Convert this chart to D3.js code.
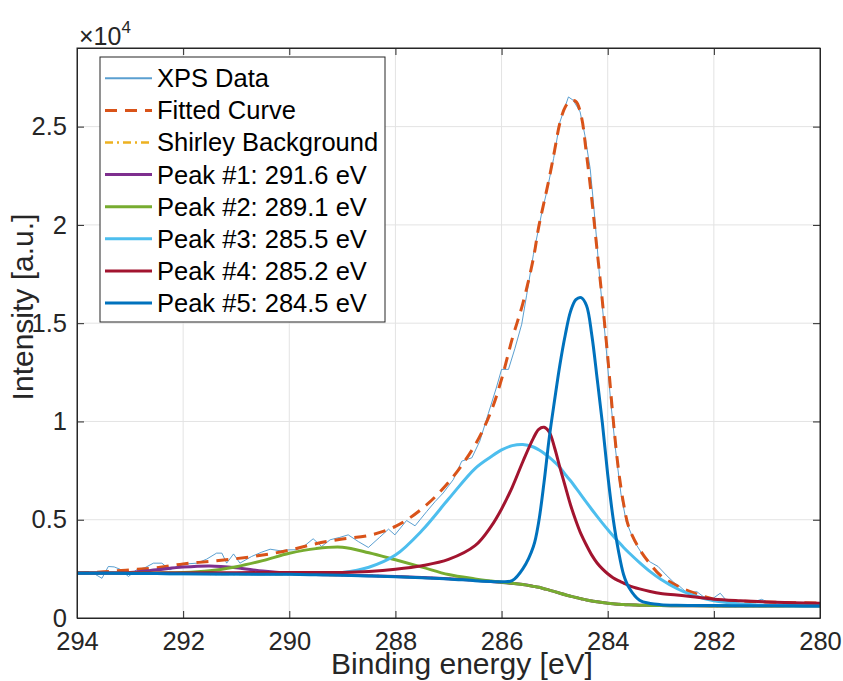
<!DOCTYPE html>
<html lang="en">
<head>
    <meta charset="UTF-8">
    <title>XPS C1s Fit</title>
    <script src="https://d3js.org/d3.v7.min.js"></script>
    <style>
        body { margin: 0; background: #ffffff; }
        svg { display: block; font-family: "Liberation Sans", Arial, Helvetica, sans-serif; }
        .tick text { fill: #262626; font-size: 25.5px; }
        .domain { stroke: #262626; }
        .tick line { stroke: #262626; }
    </style>
</head>
<body>
    <div id="chart"></div>
    <script>
        // energy grid shared by the fitted components (binding energy, eV)
        const energies = [294, 293.5, 293, 292.5, 292, 291.5, 291, 290.5, 290, 289.5, 289, 288.5, 288, 287.5, 287,
            286.5, 286.2, 286.0, 285.8, 285.6, 285.4, 285.3, 285.2, 285.1, 285.0, 284.9, 284.8, 284.7, 284.6, 284.5,
            284.4, 284.3, 284.2, 284.1, 284.0, 283.9, 283.8, 283.7, 283.6, 283.4, 283.2, 283.0, 282.7, 282.4, 282.0,
            281.5, 281.0, 280.5, 280.0];

        const fitted = [2280, 2350, 2450, 2560, 2750, 2880, 3020, 3200, 3450, 3780, 4020, 4200, 4660, 5560, 6900,
            8800, 10500, 12150, 14200, 16000, 18300, 19900, 21150, 22400, 23800, 25200, 26000, 26300, 26280, 25550,
            23600, 21300, 18700, 16100, 13300, 10200, 7600, 5800, 4600, 3500, 2750, 2150, 1650, 1300, 960,
            860, 810, 780, 760];

        const shirley = [2280, 2275, 2270, 2260, 2250, 2245, 2240, 2235, 2225, 2205, 2180, 2150, 2110, 2060, 2000,
            1920, 1860, 1810, 1760, 1700, 1610, 1560, 1490, 1420, 1340, 1260, 1180, 1110, 1040, 980,
            920, 870, 830, 790, 750, 720, 700, 685, 670, 650, 640, 630, 625, 620, 615,
            612, 610, 608, 605];

        const peak1 = [2285, 2290, 2320, 2450, 2590, 2650, 2560, 2390, 2275, 2215, 2185, 2150, 2110, 2060, 2000,
            1920, 1860, 1810, 1760, 1700, 1610, 1560, 1490, 1420, 1340, 1260, 1180, 1110, 1040, 980,
            920, 870, 830, 790, 750, 720, 700, 685, 670, 650, 640, 630, 625, 620, 615,
            612, 610, 608, 605];

        const peak2 = [2285, 2285, 2290, 2295, 2310, 2400, 2610, 2920, 3290, 3530, 3600, 3320, 2960, 2590, 2210,
            1990, 1880, 1815, 1765, 1700, 1610, 1560, 1490, 1420, 1340, 1260, 1180, 1110, 1040, 980,
            920, 870, 830, 790, 750, 720, 700, 685, 670, 650, 640, 630, 625, 620, 615,
            612, 610, 608, 605];

        const peak3 = [2280, 2275, 2270, 2260, 2250, 2245, 2240, 2238, 2235, 2250, 2310, 2580, 3200, 4450, 6050,
            7600, 8200, 8550, 8770, 8830, 8700, 8560, 8380, 8170, 7930, 7660, 7300, 6980, 6620, 6250,
            5880, 5520, 5170, 4830, 4500, 4180, 3880, 3590, 3320, 2820, 2360, 1970, 1500, 1160, 870,
            710, 645, 615, 606];

        const peak4 = [2285, 2285, 2285, 2290, 2295, 2300, 2305, 2310, 2310, 2315, 2320, 2370, 2480, 2660, 2980,
            3680, 4650, 5550, 6650, 7950, 9150, 9600, 9700, 9450, 8650, 7650, 6700, 5750, 4950, 4250,
            3700, 3200, 2800, 2500, 2250, 2050, 1900, 1780, 1650, 1480, 1350, 1250, 1170, 1080, 960,
            880, 820, 780, 750];

        const peak5 = [2280, 2275, 2270, 2260, 2250, 2240, 2235, 2230, 2225, 2200, 2170, 2140, 2100, 2050, 1990,
            1900, 1860, 1840, 1900, 2500, 3640, 4900, 6900, 9200, 11100, 12900, 14400, 15600, 16200, 16300,
            15900, 14400, 12200, 9900, 7300, 5100, 3450, 2200, 1550, 900, 740, 680, 650, 640, 630,
            625, 620, 618, 615];

        // measured spectrum
        const xpsEnergy = [294.0, 293.85, 293.7, 293.53, 293.41, 293.3, 293.19, 293.03, 292.88, 292.72, 292.56,
            292.4, 292.25, 292.06, 291.9, 291.74, 291.56, 291.37, 291.27, 291.18, 291.05, 290.93, 290.71, 290.52,
            290.36, 290.17, 289.99, 289.86, 289.7, 289.55, 289.39, 289.23, 289.05, 288.89, 288.7, 288.51, 288.3,
            288.13, 288.01, 287.79, 287.63, 287.41, 287.25, 287.1, 286.91, 286.75, 286.56, 286.41, 286.25, 286.1,
            286.0, 285.87, 285.75, 285.62, 285.53, 285.4, 285.24, 285.15, 285.02, 284.9, 284.74, 284.65, 284.52,
            284.43, 284.33, 284.27, 284.21, 284.15, 284.05, 283.95, 283.85, 283.75, 283.65, 283.5, 283.35, 283.2,
            283.05, 282.9, 282.75, 282.64, 282.51, 282.32, 282.2, 282.04, 281.88, 281.76, 281.6, 281.45, 281.26,
            281.1, 280.95, 280.75, 280.5, 280.25, 280.0];
        const xpsIntensity = [2290, 2250, 2290, 2020, 2620, 2600, 2480, 2110, 2450, 2560, 2790,
            2790, 2450, 2700, 2760, 2790, 2990, 3300, 3300, 2790, 3260, 2790, 3130, 3350,
            3500, 3420, 3470, 3470, 3700, 4030, 3640, 3980, 4100, 4230, 3890, 3590, 4100,
            4520, 4230, 4960, 4690, 5420, 5930, 6360, 7040, 7980, 8150, 9000, 10400, 11700,
            12650, 12650, 13700, 14950, 16390, 18500, 20650, 21670, 23370, 25240, 26510, 26340, 25750,
            24560, 22860, 21160, 19290, 17240, 14400, 11200, 8500, 6300, 4900, 3900, 3250, 2850,
            2620, 2190, 1800, 1600, 1290, 1340, 1090, 950, 1260, 880, 860, 840, 810,
            950, 770, 760, 740, 730, 720];

        const xTicks = [294, 292, 290, 288, 286, 284, 282, 280];
        const yTicks = [0, 5000, 10000, 15000, 20000, 25000];
        const legendLabels = ["XPS Data", "Fitted Curve", "Shirley Background", "Peak #1: 291.6 eV",
            "Peak #2: 289.1 eV", "Peak #3: 285.5 eV", "Peak #4: 285.2 eV", "Peak #5: 284.5 eV"];

        const width = 843;
        const height = 681;
        const margin = { top: 48, right: 23, bottom: 63, left: 77 };
        const innerWidth = width - margin.left - margin.right;
        const innerHeight = height - margin.top - margin.bottom;

        const styles = [
            { color: "#3d8ec8", width: 1, dash: null, opacity: 0.85 },
            { color: "#D95319", width: 3, dash: "12,8", opacity: 1 },
            { color: "#EDB120", width: 2.5, dash: "8,4,2,4", opacity: 1 },
            { color: "#7E2F8E", width: 3, dash: null, opacity: 1 },
            { color: "#77AC30", width: 3, dash: null, opacity: 1 },
            { color: "#4DBEEE", width: 3, dash: null, opacity: 1 },
            { color: "#A2142F", width: 3, dash: null, opacity: 1 },
            { color: "#0072BD", width: 3, dash: null, opacity: 1 }
        ];

        const svg = d3.select("#chart")
            .append("svg")
            .attr("width", width)
            .attr("height", height);

        const g = svg.append("g")
            .attr("transform", `translate(${margin.left}, ${margin.top})`);

        const xScale = d3.scaleLinear().domain([294, 280]).range([0, innerWidth]);
        const yScale = d3.scaleLinear().domain([0, 29000]).range([innerHeight, 0]);

        // grid
        g.append("g").selectAll("line").data(xTicks.slice(1, -1)).join("line")
            .attr("x1", d => xScale(d)).attr("x2", d => xScale(d))
            .attr("y1", 0).attr("y2", innerHeight)
            .attr("stroke", "#e3e3e3").attr("stroke-width", 1);
        g.append("g").selectAll("line").data(yTicks.slice(1)).join("line")
            .attr("x1", 0).attr("x2", innerWidth)
            .attr("y1", d => yScale(d)).attr("y2", d => yScale(d))
            .attr("stroke", "#e3e3e3").attr("stroke-width", 1);

        // curves
        g.append("clipPath").attr("id", "plot-clip")
            .append("rect").attr("width", innerWidth).attr("height", innerHeight);
        const plot = g.append("g").attr("clip-path", "url(#plot-clip)");

        const line = d3.line()
            .x(d => xScale(d[0]))
            .y(d => yScale(d[1]));
        const smooth = d3.line()
            .x(d => xScale(d[0]))
            .y(d => yScale(d[1]))
            .curve(d3.curveCatmullRom.alpha(0.5));

        const series = [
            { values: d3.zip(xpsEnergy, xpsIntensity), gen: line },
            { values: d3.zip(energies, fitted), gen: smooth },
            { values: d3.zip(energies, shirley), gen: smooth },
            { values: d3.zip(energies, peak1), gen: smooth },
            { values: d3.zip(energies, peak2), gen: smooth },
            { values: d3.zip(energies, peak3), gen: smooth },
            { values: d3.zip(energies, peak4), gen: smooth },
            { values: d3.zip(energies, peak5), gen: smooth }
        ];

        series.forEach((s, i) => {
            plot.append("path")
                .attr("d", s.gen(s.values))
                .attr("fill", "none")
                .attr("stroke", styles[i].color)
                .attr("stroke-width", styles[i].width)
                .attr("stroke-dasharray", styles[i].dash)
                .attr("stroke-opacity", styles[i].opacity)
                .attr("stroke-linejoin", "round");
        });

        // axes (ticks point inward, box on)
        g.append("g")
            .attr("transform", `translate(0, ${innerHeight})`)
            .call(d3.axisBottom(xScale).tickValues(xTicks).tickSizeInner(-7).tickSizeOuter(0).tickPadding(14));
        g.append("g")
            .call(d3.axisLeft(yScale).tickValues(yTicks).tickFormat(d => d / 1e4)
                .tickSizeInner(-7).tickSizeOuter(0).tickPadding(10));
        g.append("g")
            .call(d3.axisTop(xScale).tickValues(xTicks).tickSizeInner(-7).tickSizeOuter(0))
            .call(ax => ax.selectAll("text").remove());
        g.append("g")
            .attr("transform", `translate(${innerWidth}, 0)`)
            .call(d3.axisRight(yScale).tickValues(yTicks).tickSizeInner(-7).tickSizeOuter(0))
            .call(ax => ax.selectAll("text").remove());
        g.append("rect")
            .attr("width", innerWidth).attr("height", innerHeight)
            .attr("fill", "none").attr("stroke", "#262626").attr("stroke-width", 1);

        // exponent
        const expo = svg.append("text")
            .attr("x", margin.left + 2).attr("y", 45)
            .attr("fill", "#262626").attr("font-size", 25);
        expo.append("tspan").text("×10");
        expo.append("tspan").attr("dy", -12).attr("font-size", 17).text("4");

        // axis labels
        svg.append("text")
            .attr("x", 462).attr("y", 674)
            .attr("text-anchor", "middle").attr("fill", "#262626").attr("font-size", 30)
            .text("Binding energy [eV]");
        svg.append("text")
            .attr("transform", "translate(33, 307) rotate(-90)")
            .attr("text-anchor", "middle").attr("fill", "#262626").attr("font-size", 30)
            .text("Intensity [a.u.]");

        // legend
        const legend = svg.append("g").attr("transform", "translate(100, 57)");
        legend.append("rect")
            .attr("width", 285).attr("height", 265)
            .attr("fill", "#ffffff").attr("stroke", "#262626").attr("stroke-width", 1);
        const items = legend.selectAll("g.item").data(legendLabels).join("g")
            .attr("class", "item")
            .attr("transform", (d, i) => `translate(0, ${21.3 + i * 32.1})`);
        items.append("line")
            .attr("x1", 5).attr("x2", 52)
            .attr("stroke", (d, i) => styles[i].color)
            .attr("stroke-width", (d, i) => Math.max(styles[i].width, 2))
            .attr("stroke-dasharray", (d, i) => styles[i].dash)
            .attr("stroke-opacity", (d, i) => styles[i].opacity);
        items.append("text")
            .attr("x", 57).attr("dy", "0.35em")
            .attr("fill", "#000000").attr("font-size", 25.5)
            .text(d => d);
    </script>
</body>
</html>
